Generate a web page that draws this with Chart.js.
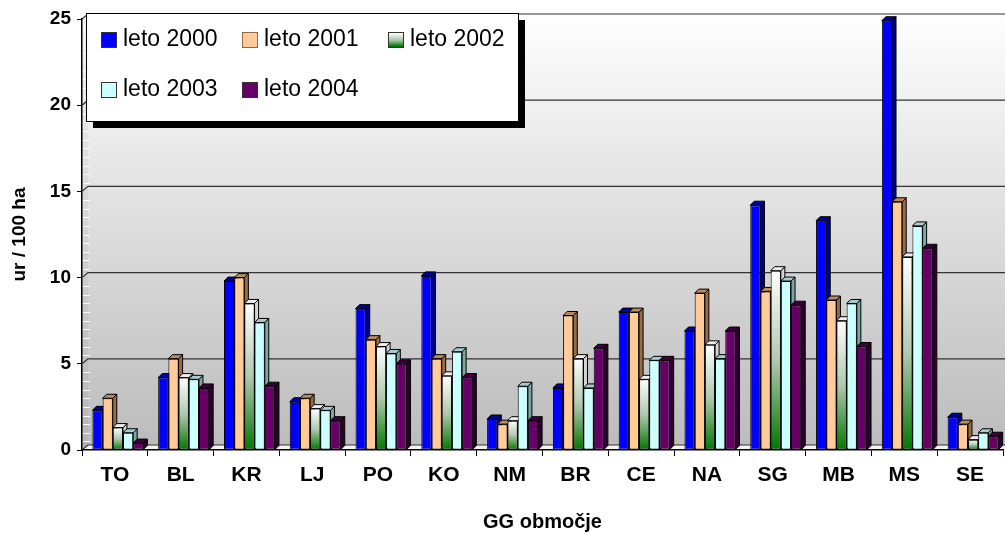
<!DOCTYPE html>
<html lang="sl">
<head>
<meta charset="utf-8">
<title>ur / 100 ha po GG območjih</title>
<script src="https://cdn.jsdelivr.net/npm/chart.js@4.4.1/dist/chart.umd.min.js"></script>
<style>
  html, body { margin: 0; padding: 0; background: #fff; }
  #wrap { position: relative; width: 1005px; height: 534px; }
</style>
</head>
<body>
<div id="wrap"><canvas id="barChart" width="1005" height="534"></canvas></div>
<script>
// values (ur / 100 ha)
const areas = ['TO', 'BL', 'KR', 'LJ', 'PO', 'KO', 'NM', 'BR', 'CE', 'NA', 'SG', 'MB', 'MS', 'SE'];
const leto2000 = [2.3, 4.2, 9.8, 2.8, 8.2, 10.1, 1.8, 3.6, 8.0, 6.9, 14.2, 13.3, 24.9, 1.9];
const leto2001 = [3.0, 5.3, 10.0, 3.0, 6.4, 5.3, 1.5, 7.8, 8.0, 9.1, 9.2, 8.7, 14.4, 1.5];
const leto2002 = [1.3, 4.2, 8.5, 2.4, 6.0, 4.3, 1.7, 5.3, 4.1, 6.1, 10.4, 7.5, 11.2, 0.6];
const leto2003 = [1.0, 4.1, 7.4, 2.3, 5.6, 5.7, 3.7, 3.6, 5.2, 5.3, 9.8, 8.5, 13.0, 1.0];
const leto2004 = [0.4, 3.6, 3.7, 1.7, 5.0, 4.2, 1.7, 5.9, 5.2, 6.9, 8.4, 6.0, 11.7, 0.8];
const yTicks = [0, 5, 10, 15, 20, 25];

const fontFamily = "'Liberation Sans', Arial, sans-serif";
Chart.defaults.font.family = fontFamily;
Chart.defaults.color = '#000';

// face colours for the fake 3d look
const sideColors = ['#00008a', '#9a6c44', '#d4d4d4', '#7fa6a6', '#2e002e'];
const topColors = ['#0000a8', '#b98a5c', '#eeeeee', '#a6cccc', '#3c003c'];
const depth = 4;      // bar depth in px
const wallDepth = 6;  // back wall shift
const wallRise = 5;

function greenFill(c) {
    const chart = c.chart;
    if (!chart.chartArea || c.type !== 'data') return '#008000';
    const y = chart.scales.y;
    const top = y.getPixelForValue(c.raw);
    const base = y.getPixelForValue(0);
    const g = chart.ctx.createLinearGradient(0, top, 0, base);
    g.addColorStop(0, '#ffffff');
    g.addColorStop(0.5, '#b0c8b0');
    g.addColorStop(1, '#007800');
    return g;
}

const wallPlugin = {
    id: 'wall',
    beforeDraw(chart) {
        const ctx = chart.ctx;
        const a = chart.chartArea;
        const y = chart.scales.y;
        const top = y.getPixelForValue(25);
        const base = y.getPixelForValue(0);
        const right = chart.width + 10;
        ctx.save();
        // back wall
        let g = ctx.createLinearGradient(0, top - wallRise, 0, base - wallRise);
        g.addColorStop(0, '#fefefe');
        g.addColorStop(1, '#bcbcbc');
        ctx.fillStyle = g;
        ctx.fillRect(a.left + wallDepth, top - wallRise, right - a.left, base - top);
        // left wall
        g = ctx.createLinearGradient(0, top, 0, base);
        g.addColorStop(0, '#f4f4f4');
        g.addColorStop(1, '#b4b4b4');
        ctx.fillStyle = g;
        ctx.beginPath();
        ctx.moveTo(a.left, top);
        ctx.lineTo(a.left + wallDepth, top - wallRise);
        ctx.lineTo(a.left + wallDepth, base - wallRise);
        ctx.lineTo(a.left, base);
        ctx.closePath();
        ctx.fill();
        // minor marks on the left wall
        ctx.strokeStyle = 'rgba(255,255,255,0.9)';
        ctx.lineWidth = 1;
        for (let v = 0.5; v < 25; v += 0.5) {
            if (v % 5 === 0) continue;
            const p = Math.round(y.getPixelForValue(v)) + 0.5;
            ctx.beginPath();
            ctx.moveTo(a.left + 1, p);
            ctx.lineTo(a.left + wallDepth + 2, p);
            ctx.stroke();
        }
        // floor
        ctx.fillStyle = '#f4f4f4';
        ctx.beginPath();
        ctx.moveTo(a.left, base);
        ctx.lineTo(a.left + wallDepth, base - wallRise);
        ctx.lineTo(right, base - wallRise);
        ctx.lineTo(right, base);
        ctx.closePath();
        ctx.fill();
        // grid lines on the wall
        ctx.strokeStyle = '#333';
        ctx.lineWidth = 1.2;
        yTicks.forEach(v => {
            const p = y.getPixelForValue(v);
            ctx.beginPath();
            ctx.moveTo(a.left, p);
            ctx.lineTo(a.left + wallDepth, p - wallRise);
            ctx.lineTo(right, p - wallRise);
            ctx.stroke();
        });
        ctx.restore();
    }
};

const bar3dPlugin = {
    id: 'bar3d',
    beforeDatasetsDraw(chart) {
        const ctx = chart.ctx;
        ctx.save();
        ctx.translate(3, 0);
        ctx.strokeStyle = '#000';
        ctx.lineWidth = 1;
        const n = chart.data.labels.length;
        for (let i = 0; i < n; i++) {
            chart.data.datasets.forEach((ds, d) => {
                const el = chart.getDatasetMeta(d).data[i];
                const l = el.x - el.width / 2;
                const r = el.x + el.width / 2;
                const t = el.y;
                const b = el.base;
                // side
                ctx.fillStyle = sideColors[d];
                ctx.beginPath();
                ctx.moveTo(r, t);
                ctx.lineTo(r + depth, t - depth);
                ctx.lineTo(r + depth, b - depth);
                ctx.lineTo(r, b);
                ctx.closePath();
                ctx.fill();
                ctx.stroke();
                // top
                ctx.fillStyle = topColors[d];
                ctx.beginPath();
                ctx.moveTo(l, t);
                ctx.lineTo(l + depth, t - depth);
                ctx.lineTo(r + depth, t - depth);
                ctx.lineTo(r, t);
                ctx.closePath();
                ctx.fill();
                ctx.stroke();
            });
        }
    },
    afterDatasetsDraw(chart) {
        chart.ctx.restore();
    }
};

const legendPlugin = {
    id: 'boxLegend',
    afterDraw(chart) {
        const ctx = chart.ctx;
        const box = {x: 86, y: 13, w: 432, h: 108};
        ctx.save();
        ctx.fillStyle = '#000';
        ctx.fillRect(box.x + 7, box.y + 7, box.w, box.h);
        ctx.fillStyle = '#fff';
        ctx.fillRect(box.x, box.y, box.w, box.h);
        ctx.strokeStyle = '#000';
        ctx.lineWidth = 1;
        ctx.strokeRect(box.x + 0.5, box.y + 0.5, box.w, box.h);
        const cols = [101, 242, 388];
        const rows = [32, 82];
        ctx.font = '23px ' + fontFamily;
        ctx.textBaseline = 'alphabetic';
        chart.data.datasets.forEach((ds, d) => {
            const sx = cols[d % 3];
            const sy = rows[Math.floor(d / 3)];
            if (d === 2) {
                const g = ctx.createLinearGradient(0, sy + 1, 0, sy + 14);
                g.addColorStop(0, '#ffffff');
                g.addColorStop(0.6, '#a0c0a0');
                g.addColorStop(1, '#007a00');
                ctx.fillStyle = g;
            } else {
                ctx.fillStyle = ds.backgroundColor;
            }
            ctx.fillRect(sx, sy, 15, 15);
            ctx.strokeStyle = d === 1 ? '#8a6a4a' : '#333';
            ctx.strokeRect(sx + 0.5, sy + 0.5, 15, 15);
            ctx.fillStyle = '#000';
            ctx.fillText(ds.label, sx + 22, sy + 14);
        });
        ctx.restore();
    }
};

const ctx = document.getElementById('barChart').getContext('2d');
const data = {
    labels: areas,
    datasets: [
        {label: 'leto 2000', data: leto2000, backgroundColor: '#0000ff'},
        {label: 'leto 2001', data: leto2001, backgroundColor: '#ffcc99'},
        {label: 'leto 2002', data: leto2002, backgroundColor: greenFill},
        {label: 'leto 2003', data: leto2003, backgroundColor: '#ccffff'},
        {label: 'leto 2004', data: leto2004, backgroundColor: '#660066'}
    ]
};
data.datasets.forEach(ds => {
    ds.borderColor = '#000';
    ds.borderWidth = 1;
    ds.borderSkipped = false;
    ds.categoryPercentage = 0.775;
    ds.barPercentage = 1.0;
    ds.clip = false;
});

const myBarChart = new Chart(ctx, {
    type: 'bar',
    data: data,
    plugins: [wallPlugin, bar3dPlugin, legendPlugin],
    options: {
        responsive: false,
        animation: false,
        layout: {padding: {top: 19, right: 2, left: 0, bottom: 0}},
        plugins: {
            legend: {display: false},
            tooltip: {enabled: false}
        },
        scales: {
            x: {
                grid: {drawOnChartArea: false, tickLength: 6, color: '#000', offset: true},
                border: {color: '#000', width: 1.5},
                ticks: {font: {size: 21, weight: 'bold'}, color: '#000', padding: 7, maxRotation: 0},
                title: {
                    display: true,
                    text: 'GG območje',
                    font: {size: 20, weight: 'bold'},
                    color: '#000',
                    padding: {top: 0, bottom: 0}
                },
                afterFit: s => { s.height = 84; }
            },
            y: {
                min: 0,
                max: 25,
                afterBuildTicks: s => { s.ticks = yTicks.map(v => ({value: v})); },
                grid: {drawOnChartArea: false, tickLength: 5, color: '#000'},
                border: {color: '#000', width: 1.5},
                ticks: {font: {size: 19, weight: 'bold'}, color: '#000', padding: 6},
                title: {
                    display: true,
                    text: 'ur / 100 ha',
                    font: {size: 19, weight: 'bold'},
                    color: '#000',
                    padding: {top: 8, bottom: 0}
                },
                afterFit: s => { s.width = 82; }
            }
        }
    }
});
</script>
</body>
</html>
